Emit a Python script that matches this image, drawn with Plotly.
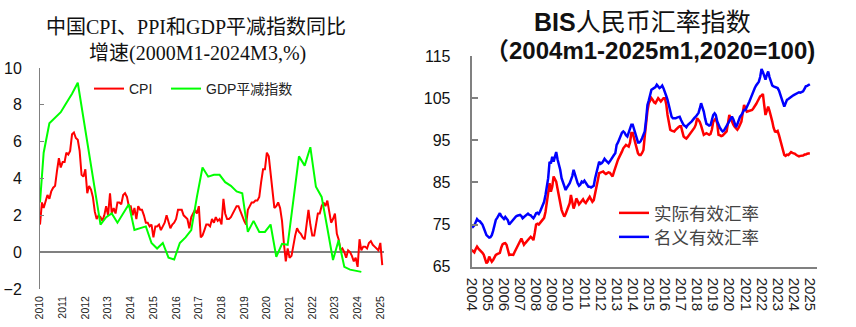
import pandas as pd
import plotly.graph_objects as go

W, H = 856, 327

# ---------------- Left chart data ----------------
cpi_start = "2010-01-01"
cpi_values = [
    1.5, 2.7, 2.4, 2.8, 3.1, 2.9, 3.3, 3.5, 3.6, 4.4, 5.1, 4.6,      # 2010
    4.9, 4.9, 5.4, 5.3, 5.5, 6.4, 6.5, 6.2, 6.1, 5.5, 4.2, 4.1,      # 2011
    4.5, 3.2, 3.6, 3.4, 3.0, 2.2, 1.8, 2.0, 1.9, 1.7, 2.0, 2.5,      # 2012
    2.0, 3.2, 2.1, 2.4, 2.1, 2.7, 2.7, 2.6, 3.1, 3.2, 3.0, 2.5,      # 2013
    2.5, 2.0, 2.4, 1.8, 2.5, 2.3, 2.3, 2.0, 1.6, 1.6, 1.4, 1.5,      # 2014
    0.8, 1.4, 1.4, 1.5, 1.2, 1.4, 1.6, 2.0, 1.6, 1.3, 1.5, 1.6,      # 2015
    1.8, 2.3, 2.3, 2.3, 2.0, 1.9, 1.8, 1.3, 1.9, 2.1, 2.3, 2.1,      # 2016
    2.5, 0.8, 0.9, 1.2, 1.5, 1.5, 1.4, 1.8, 1.6, 1.9, 1.7, 1.8,      # 2017
    1.5, 2.9, 2.1, 1.8, 1.8, 1.9, 2.1, 2.3, 2.5, 2.5, 2.2, 1.9,      # 2018
    1.7, 1.5, 2.3, 2.5, 2.7, 2.7, 2.8, 2.8, 3.0, 3.8, 4.5, 4.5,      # 2019
    5.4, 5.2, 4.3, 3.3, 2.4, 2.5, 2.7, 2.4, 1.7, 0.5, -0.5, 0.2,     # 2020
    -0.3, -0.2, 0.4, 0.9, 1.3, 1.1, 1.0, 0.8, 0.7, 1.5, 2.3, 1.5,    # 2021
    0.9, 0.9, 1.5, 2.1, 2.1, 2.5, 2.7, 2.5, 2.8, 2.1, 1.6, 1.8,      # 2022
    2.1, 1.0, 0.7, 0.1, 0.2, 0.0, -0.3, 0.1, 0.0, -0.2, -0.5, -0.3,  # 2023
    -0.8, 0.7, 0.1, 0.3, 0.3, 0.2, 0.5, 0.6, 0.4, 0.3, 0.2, 0.1,     # 2024
    0.5, -0.7,                                                       # 2025
]

gdp_dates = [
    "2010-01", "2010-03", "2010-06", "2010-09", "2010-12",
    "2011-03", "2011-06", "2011-09", "2011-12",
    "2012-03", "2012-06", "2012-09", "2012-12",
    "2013-03", "2013-06", "2013-09", "2013-12",
    "2014-03", "2014-06", "2014-09", "2014-12",
    "2015-03", "2015-06", "2015-09", "2015-12",
    "2016-03", "2016-06", "2016-09", "2016-12",
    "2017-03", "2017-06", "2017-09", "2017-12",
    "2018-03", "2018-06", "2018-09", "2018-12",
    "2019-03", "2019-06", "2019-09", "2019-12",
    "2020-03", "2020-06", "2020-09", "2020-12",
    "2021-03", "2021-06", "2021-09", "2021-12",
    "2022-03", "2022-06", "2022-09", "2022-12",
    "2023-03", "2023-06", "2023-09", "2023-12",
    "2024-03",
]
gdp_values = [
    2.7, 5.4, 7.0, 7.3, 7.6,
    8.1, 8.6, 9.2, 7.3,
    5.4, 3.4, 1.5, 1.9,
    2.1, 1.6, 2.1, 2.6,
    1.2, 1.3, 1.4, 0.5,
    0.2, 0.5, -0.3, -0.4,
    0.5, 0.8, 1.2, 3.0,
    4.6, 4.1, 4.2, 4.2,
    3.8, 3.6, 3.3, 3.2,
    1.1, 1.7, 1.1, 1.1,
    1.5, -0.25, 0.45, 0.4,
    2.8, 5.2, 4.7, 5.7,
    3.55, 3.0, 1.3, -0.43,
    0.65, -0.8, -0.95, -1.0,
    -1.07,
]

left_years = list(range(2010, 2026))

# ---------------- Right chart data ----------------
bis_start = "2004-01-01"
neer_values = [
    75.0, 74.5, 74.8, 75.6, 76.3, 75.9, 75.8, 75.4, 75.0, 74.2, 73.2, 72.5,   # 2004
    72.2, 71.9, 72.0, 72.5, 73.5, 74.8, 76.1, 76.6, 77.2, 77.7, 77.0, 76.5,   # 2005
    76.3, 76.8, 76.4, 76.0, 75.0, 75.4, 75.8, 76.1, 76.5, 76.9, 77.1, 77.3,   # 2006
    77.3, 77.0, 76.5, 76.8, 77.1, 77.4, 77.6, 77.3, 77.2, 76.8, 76.5, 77.0,   # 2007
    77.7, 77.8, 77.5, 78.1, 78.8, 79.5, 80.4, 82.0, 83.6, 86.0, 89.9, 89.5,   # 2008
    91.1, 89.9, 91.0, 92.2, 90.5, 89.5, 88.0, 86.0, 85.2, 84.3, 83.2, 83.8,   # 2009
    84.3, 84.8, 85.6, 86.5, 88.0, 86.8, 85.6, 84.8, 84.2, 84.5, 85.2, 85.0,   # 2010
    85.4, 85.0, 84.5, 84.0, 84.0, 83.8, 84.0, 84.2, 86.0, 87.2, 88.5, 89.9,   # 2011
    89.4, 89.6, 90.0, 90.6, 90.2, 89.8, 89.6, 90.0, 90.6, 91.0, 91.5, 91.9,   # 2012
    93.9, 94.5, 95.3, 96.3, 96.8, 97.1, 96.8, 96.2, 95.9, 96.8, 97.9, 98.7,   # 2013
    98.7, 97.5, 96.3, 95.3, 94.5, 94.5, 94.8, 95.5, 96.2, 97.1, 100.0, 103.4, # 2014
    104.5, 106.0, 107.0, 107.2, 107.4, 107.6, 108.2, 107.8, 107.4, 107.6, 108.0, 107.3,  # 2015
    106.6, 105.5, 104.6, 103.0, 101.4, 100.6, 100.2, 100.2, 100.2, 100.4, 100.6, 100.6,  # 2016
    99.8, 98.9, 98.6, 98.4, 98.1, 98.6, 99.0, 99.2, 99.5, 100.0, 100.3, 100.6,  # 2017
    101.0, 101.5, 102.5, 103.8, 102.8, 101.8, 100.2, 98.9, 98.7, 98.5, 98.6, 99.8,  # 2018
    101.0, 101.4, 101.0, 99.5, 98.5, 98.0, 97.5, 97.1, 97.3, 97.9, 98.5, 99.0,  # 2019
    99.4, 100.0, 100.6, 100.0, 99.0, 98.1, 98.8, 99.8, 100.6, 101.0, 101.5, 102.2,  # 2020
    102.2, 102.8, 103.5, 104.2, 105.0, 106.0, 106.8, 107.4, 108.0, 108.5, 108.9, 110.0,  # 2021
    111.9, 111.2, 110.5, 109.4, 110.5, 111.3, 110.0, 108.9, 108.0, 107.8, 107.6, 107.4,  # 2022
    107.4, 106.8, 106.0, 105.0, 104.0, 103.0, 103.8, 104.6, 104.8, 105.1, 105.3, 105.5,  # 2023
    105.7, 105.9, 106.1, 106.4, 106.4, 106.3, 106.4, 106.6, 107.2, 107.8, 107.9, 108.1,  # 2024
    108.3,                                                                    # 2025
]
reer_values = [
    69.0, 68.6, 68.4, 69.2, 69.75, 69.3, 69.0, 68.6, 68.3, 67.8, 66.8, 65.8,  # 2004
    66.2, 67.4, 66.8, 66.2, 66.6, 67.2, 67.8, 68.0, 68.2, 68.3, 69.5, 70.3,   # 2005
    70.5, 70.6, 70.2, 69.0, 67.8, 67.9, 67.8, 67.8, 68.5, 69.2, 69.75, 70.5,  # 2006
    71.0, 71.7, 71.0, 70.2, 70.6, 71.0, 71.3, 71.6, 72.1, 71.8, 71.3, 73.0,   # 2007
    75.0, 75.2, 75.0, 75.4, 75.8, 76.2, 76.6, 78.0, 80.4, 82.5, 84.8, 82.8,   # 2008
    84.0, 86.4, 85.8, 85.2, 83.5, 81.5, 79.6, 78.5, 77.6, 76.9, 77.5, 78.5,   # 2009
    79.5, 80.1, 82.0, 80.5, 78.8, 79.8, 81.2, 80.6, 79.8, 80.2, 80.6, 81.0,   # 2010
    80.4, 80.1, 80.6, 81.2, 81.6, 81.0, 80.4, 80.8, 82.2, 83.6, 85.5, 87.2,   # 2011
    87.4, 87.6, 87.6, 87.2, 87.0, 87.2, 87.4, 87.3, 86.8, 86.4, 87.5, 88.6,   # 2012
    89.6, 90.4, 91.0, 91.5, 92.3, 93.1, 93.5, 93.9, 93.7, 93.5, 94.5, 96.7,   # 2013
    96.7, 95.3, 93.9, 92.5, 91.9, 91.5, 91.5, 92.0, 92.7, 96.0, 99.9, 102.0,  # 2014
    103.8, 104.4, 105.0, 104.6, 104.0, 103.8, 104.5, 105.0, 104.6, 104.2, 104.6, 105.0,  # 2015
    105.0, 103.5, 101.0, 99.3, 97.5, 97.3, 97.1, 97.1, 97.5, 97.9, 98.1, 98.3,  # 2016
    98.3, 97.0, 95.9, 95.6, 95.4, 95.8, 96.2, 96.7, 97.0, 97.5, 98.0, 98.7,   # 2017
    100.2, 99.8, 99.4, 98.5, 97.2, 96.3, 96.5, 96.7, 96.5, 96.3, 96.5, 97.5,  # 2018
    99.4, 99.8, 100.2, 99.0, 96.3, 96.2, 96.0, 96.1, 96.5, 96.9, 97.1, 99.0,  # 2019
    101.0, 100.2, 99.3, 98.7, 98.2, 97.8, 97.5, 98.0, 98.8, 99.4, 101.5, 103.4,  # 2020
    102.6, 101.8, 101.9, 102.0, 102.1, 102.2, 102.6, 103.0, 103.6, 104.2, 104.8, 105.4,  # 2021
    105.6, 106.0, 103.5, 101.0, 102.0, 103.0, 102.0, 101.0, 99.5, 98.0, 97.1, 97.0,  # 2022
    97.2, 96.2, 95.2, 94.3, 93.0, 91.5, 91.3, 91.6, 91.5, 91.8, 92.2, 92.0,   # 2023
    91.9, 91.8, 91.5, 91.3, 91.2, 91.3, 91.3, 91.4, 91.6, 91.6, 91.8, 91.8,   # 2024
    91.9,                                                                     # 2025
]
right_years = list(range(2004, 2026))

# ---------------- Build figure ----------------
cpi_dates = pd.date_range(cpi_start, periods=len(cpi_values), freq="MS")
bis_dates = pd.date_range(bis_start, periods=len(neer_values), freq="MS")


def fx(px):
    return px / W


def fy(py):
    return 1 - py / H


AXC = "#808080"
CJK_SANS = "Liberation Sans, Noto Sans CJK SC"
CJK_SERIF = "Liberation Serif, Noto Sans CJK SC"

fig = go.Figure()
fig.add_trace(go.Scatter(x=cpi_dates, y=cpi_values, mode="lines", name="CPI",
                         line=dict(color="#FF0000", width=2), xaxis="x", yaxis="y",
                         legend="legend"))
fig.add_trace(go.Scatter(x=pd.to_datetime(gdp_dates), y=gdp_values, mode="lines",
                         name="GDP平减指数", line=dict(color="#00FF00", width=2),
                         xaxis="x", yaxis="y", legend="legend2"))
fig.add_trace(go.Scatter(x=bis_dates, y=reer_values, mode="lines", name="实际有效汇率",
                         line=dict(color="#FF0000", width=2.5), xaxis="x2", yaxis="y2",
                         legend="legend3"))
fig.add_trace(go.Scatter(x=bis_dates, y=neer_values, mode="lines", name="名义有效汇率",
                         line=dict(color="#0000FF", width=2.5), xaxis="x2", yaxis="y2",
                         legend="legend4"))

left_legend_font = dict(size=14, family=CJK_SANS, color="#222")
right_legend_font = dict(size=17.5, family="Noto Sans CJK SC", color="#444")


def legend_at(px, py, font):
    return dict(orientation="v", x=fx(px), y=fy(py), xanchor="left", yanchor="middle",
                bgcolor="rgba(0,0,0,0)", font=font, itemwidth=30, tracegroupgap=0)


fig.update_layout(
    width=W, height=H,
    margin=dict(l=0, r=0, t=0, b=0, autoexpand=False),
    paper_bgcolor="white", plot_bgcolor="white",
    font=dict(family=CJK_SANS, color="black"),
    xaxis=dict(
        domain=[fx(40), fx(384)], type="date",
        range=["2010-01-01", "2025-03-01"],
        tickvals=[f"{y}-01-01" for y in left_years],
        ticktext=[str(y) for y in left_years],
        tickangle=-90, tickfont=dict(size=10.5, family="Liberation Sans", color="#222"),
        showline=False, ticks="", showgrid=False, zeroline=False,
        ticklabelstandoff=4, automargin=False,
    ),
    yaxis=dict(
        domain=[fy(289), fy(68)], range=[-2, 10], dtick=2, tick0=0,
        showline=True, linecolor=AXC, linewidth=1,
        ticks="inside", ticklen=4, tickcolor=AXC, tickwidth=1,
        zeroline=True, zerolinecolor=AXC, zerolinewidth=2,
        showgrid=False, tickfont=dict(size=16, family="Liberation Sans", color="#111"),
        ticklabelstandoff=14, automargin=False,
    ),
    xaxis2=dict(
        domain=[fx(471.7), fx(816.5)], type="date",
        range=["2004-01-01", "2025-06-01"],
        tickvals=[f"{y}-01-01" for y in right_years],
        ticktext=[str(y) for y in right_years],
        tickangle=90, tickfont=dict(size=15, family="Liberation Sans", color="#222"),
        showline=True, linecolor=AXC, linewidth=2,
        ticks="", showgrid=False, zeroline=False, anchor="y2",
        ticklabelstandoff=6, automargin=False,
    ),
    yaxis2=dict(
        domain=[fy(266.7), fy(56)], range=[65, 115], dtick=10, tick0=65,
        showline=True, linecolor=AXC, linewidth=2,
        ticks="inside", ticklen=6, tickcolor=AXC, tickwidth=1.5,
        showgrid=False, zeroline=False, anchor="x2",
        tickfont=dict(size=16, family="Liberation Sans", color="#111"),
        ticklabelstandoff=16, automargin=False,
    ),
    legend=legend_at(89, 89, left_legend_font),
    legend2=legend_at(166, 89, left_legend_font),
    legend3=legend_at(614, 213, right_legend_font),
    legend4=legend_at(614, 237, right_legend_font),
    showlegend=True,
)

annotations = [
    dict(text="中国CPI、PPI和GDP平减指数同比", x=fx(196), y=fy(27),
         font=dict(size=20, family=CJK_SERIF, color="#111")),
    dict(text="增速(2000M1-2024M3,%)", x=fx(197), y=fy(53),
         font=dict(size=20, family=CJK_SERIF, color="#111")),
    dict(text="<b>BIS</b>人民币汇率指数", x=fx(642), y=fy(22),
         font=dict(size=25, family=CJK_SANS, color="#111")),
    dict(text="<b>（2004m1-2025m1,2020=100)</b>", x=fx(650), y=fy(50),
         font=dict(size=24, family=CJK_SANS, color="#111")),
]
for a in annotations:
    a.update(xref="paper", yref="paper", showarrow=False, xanchor="center", yanchor="middle")
fig.update_layout(annotations=annotations)

fig.write_html("out.html")
